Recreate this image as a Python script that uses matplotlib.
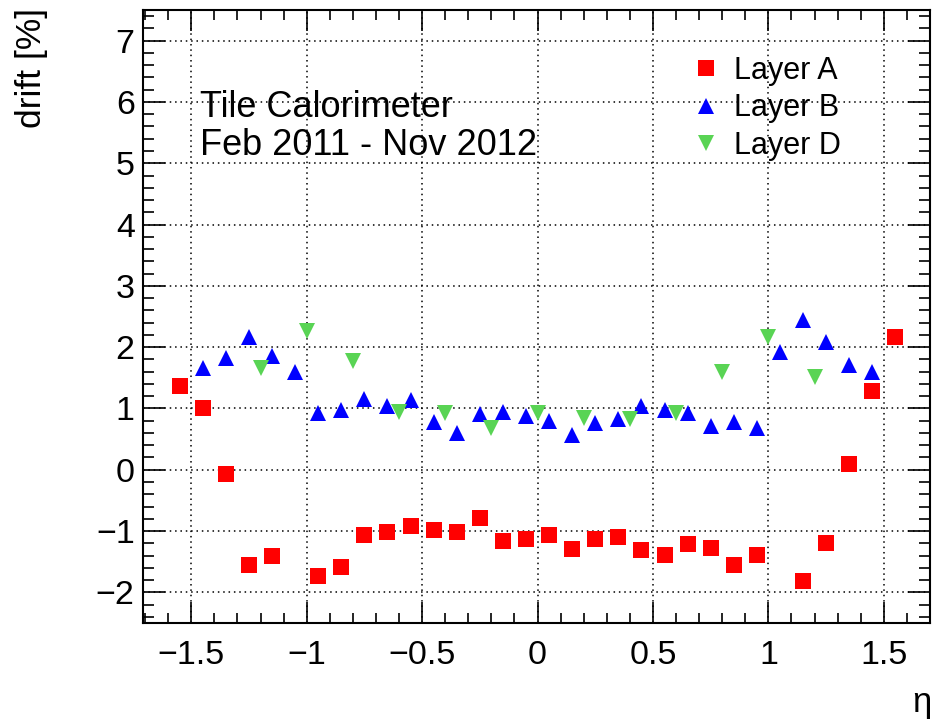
import matplotlib
matplotlib.use("Agg")
import matplotlib.pyplot as plt
from matplotlib.ticker import MultipleLocator, FixedLocator

plt.rcParams['font.family'] = ['Liberation Sans', 'DejaVu Sans']

# Layer A (red squares)
eta_A = [-1.55, -1.45, -1.35, -1.25, -1.15, -0.95, -0.85, -0.75, -0.65, -0.55,
         -0.45, -0.35, -0.25, -0.15, -0.05, 0.05, 0.15, 0.25, 0.35, 0.45,
         0.55, 0.65, 0.75, 0.85, 0.95, 1.15, 1.25, 1.35, 1.45, 1.55]
drift_A = [1.37, 1.01, -0.07, -1.55, -1.41, -1.73, -1.58, -1.06, -1.02, -0.91,
           -0.99, -1.01, -0.79, -1.16, -1.13, -1.06, -1.29, -1.13, -1.09, -1.31,
           -1.39, -1.21, -1.28, -1.56, -1.39, -1.82, -1.19, 0.10, 1.28, 2.17]

# Layer B (blue up triangles)
eta_B = [-1.45, -1.35, -1.25, -1.15, -1.05, -0.95, -0.85, -0.75, -0.65, -0.55,
         -0.45, -0.35, -0.25, -0.15, -0.05, 0.05, 0.15, 0.25, 0.35, 0.45,
         0.55, 0.65, 0.75, 0.85, 0.95, 1.05, 1.15, 1.25, 1.35, 1.45]
drift_B = [1.66, 1.83, 2.17, 1.86, 1.59, 0.93, 0.97, 1.16, 1.04, 1.14,
           0.78, 0.60, 0.91, 0.95, 0.88, 0.79, 0.57, 0.77, 0.83, 1.04,
           0.97, 0.92, 0.72, 0.78, 0.68, 1.92, 2.44, 2.08, 1.71, 1.59]

# Layer D (green down triangles)
eta_D = [-1.2, -1.0, -0.8, -0.6, -0.4, -0.2, 0.0, 0.2, 0.4, 0.6, 0.8, 1.0, 1.2]
drift_D = [1.66, 2.26, 1.78, 0.95, 0.93, 0.68, 0.92, 0.85, 0.83, 0.92, 1.60, 2.17, 1.52]

xticks = [-1.5, -1, -0.5, 0, 0.5, 1, 1.5]
xticklabels = ['\u22121.5', '\u22121', '\u22120.5', '0', '0.5', '1', '1.5']
yticks = [-2, -1, 0, 1, 2, 3, 4, 5, 6, 7]
yticklabels = ['\u22122', '\u22121', '0', '1', '2', '3', '4', '5', '6', '7']

W, H = 935, 725
fig = plt.figure(figsize=(W / 100, H / 100), dpi=100)
ax = fig.add_axes([143 / W, 1 - 623 / H, (930 - 143) / W, (623 - 10) / H])

ms = 11.3
ax.plot(eta_A, drift_A, ls='none', marker='s', ms=ms, color='#ff0000', mew=0, label='Layer A', zorder=3)
ax.plot(eta_B, drift_B, ls='none', marker='^', ms=ms, color='#0000ff', mew=0, label='Layer B', zorder=3)
ax.plot(eta_D, drift_D, ls='none', marker='v', ms=ms, color='#59d454', mew=0, label='Layer D', zorder=3)

ax.set_xlim(-1.709, 1.70)
ax.set_ylim(-2.5, 7.5)
ax.xaxis.set_major_locator(FixedLocator(xticks))
ax.set_xticklabels(xticklabels)
ax.yaxis.set_major_locator(FixedLocator(yticks))
ax.set_yticklabels(yticklabels)
ax.xaxis.set_minor_locator(MultipleLocator(0.1))
ax.yaxis.set_minor_locator(MultipleLocator(0.2))

ax.tick_params(which='both', direction='in', top=True, right=True, width=1.2, labelsize=24.5)
ax.tick_params(axis='x', which='major', length=15, pad=12)
ax.tick_params(axis='x', which='minor', length=7)
ax.tick_params(axis='y', which='major', length=16, pad=6)
ax.tick_params(axis='y', which='minor', length=8)

ax.grid(True, which='major', color='black', linestyle=(0, (1, 2.5)), linewidth=1.1)
for s in ax.spines.values():
    s.set_linewidth(1.5)

fig.text(32 / W, 1 - 8 / H, 'drift [%]', rotation=90, ha='center', va='top', fontsize=25.5)
fig.text(931 / W, 1 - 712 / H, '\u03b7', ha='right', va='baseline', fontsize=25)

fig.text(200 / W, 1 - 117 / H, 'Tile Calorimeter', ha='left', va='baseline', fontsize=26)
fig.text(200 / W, 1 - 155 / H, 'Feb 2011 - Nov 2012', ha='left', va='baseline', fontsize=26)

leg = ax.legend(loc='upper left', bbox_to_anchor=(691 / W, 1 - 56 / H), bbox_transform=fig.transFigure,
                frameon=False, fontsize=22, handlelength=1.0, handletextpad=0.4,
                labelspacing=0.24, borderpad=0, borderaxespad=0, markerscale=1.0)

fig.savefig('out.png', dpi=100)
